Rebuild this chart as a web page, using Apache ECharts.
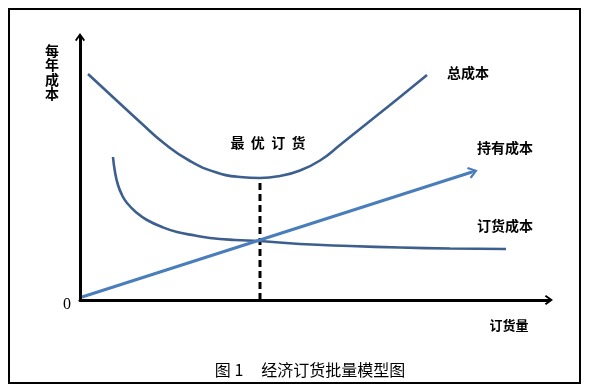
<!DOCTYPE html>
<html>
<head>
<meta charset="utf-8">
<script src="https://cdn.jsdelivr.net/npm/echarts@6/dist/echarts.min.js"></script>
<style>html,body{margin:0;padding:0;background:#fff;}#c{width:600px;height:390px;}</style>
</head>
<body>
<div id="c"></div>
<script>
// Data (x = order quantity, y = annual cost; arbitrary units)
var totalCostX = [8, 35, 60, 85, 110, 135, 160, 180, 200, 220, 240, 260, 280, 300, 320, 347];
var totalCostY = [226, 201, 178, 156, 139, 128, 123, 122, 124, 129.5, 139.5, 155, 171, 187, 203, 225];
var orderCostX = [33, 35, 38, 42, 47, 57, 67, 82, 97, 115, 130, 155, 180, 220, 270, 320, 370, 426];
var orderCostY = [143, 128, 115, 105, 97, 87, 80, 73, 68, 64.5, 62, 60, 59, 56, 54, 52.5, 51.5, 51];
var holdCostX = [2, 392];
var holdCostY = [3, 128];
var optimumX = 180;
var optimumY = 122;
var xMax = 468;
var yMax = 262;

var labelTotal = '总成本';
var labelHold = '持有成本';
var labelOrder = '订货成本';
var labelOptimum = '最  优  订  货';
var yAxisTitle = '每年成本';
var xAxisTitle = '订货量';
var originLabel = '0';
var caption = '图 1     经济订货批量模型图';

function pairs(xs, ys) { return xs.map(function (x, i) { return [x, ys[i]]; }); }

var arrowPath = 'path://M5,0 L10,7 L8.6,8.2 L5.8,4.2 L5.8,10 L4.2,10 L4.2,4.2 L1.4,8.2 L0,7 Z';

var chart = echarts.init(document.getElementById('c'), null, {renderer: 'canvas'});
var cjk = '"Noto Sans CJK SC", sans-serif';
var option = {
  backgroundColor: '#fff',
  animation: false,
  grid: {left: 80, right: 52, top: 38, bottom: 90},
  xAxis: {
    type: 'value', min: 0, max: xMax,
    axisLine: {show: true, lineStyle: {color: '#000', width: 3}, symbol: ['none', arrowPath], symbolSize: [13, 10]},
    axisTick: {show: false}, axisLabel: {show: false}, splitLine: {show: false}
  },
  yAxis: {
    type: 'value', min: 0, max: yMax,
    axisLine: {show: true, lineStyle: {color: '#000', width: 3}, symbol: ['none', arrowPath], symbolSize: [13, 10]},
    axisTick: {show: false}, axisLabel: {show: false}, splitLine: {show: false}
  },
  series: [
    {
      type: 'line', smooth: 0.5, showSymbol: false, z: 3,
      data: pairs(totalCostX, totalCostY),
      lineStyle: {color: '#3d5f8e', width: 2.6}
    },
    {
      type: 'line', smooth: 0.5, showSymbol: false, z: 3,
      data: pairs(orderCostX, orderCostY),
      lineStyle: {color: '#3d5f8e', width: 2.6}
    },
    {
      type: 'lines', coordinateSystem: 'cartesian2d', z: 4,
      symbol: ['none', arrowPath], symbolSize: 12,
      lineStyle: {color: '#4a7ebb', width: 3, opacity: 1},
      data: [{coords: pairs(holdCostX, holdCostY)}]
    },
    {
      type: 'line', showSymbol: false, z: 2,
      data: [[optimumX, 0], [optimumX, optimumY]],
      lineStyle: {color: '#000', width: 3, type: [7, 4]}
    }
  ],
  graphic: [
    {type: 'rect', shape: {x: 9, y: 9, width: 571, height: 374}, style: {fill: 'none', stroke: '#000', lineWidth: 2}, z: 10},
    {type: 'text', x: 52, y: 43, style: {text: yAxisTitle.split('').join('\n'), font: 'bold 14px ' + cjk, fill: '#000', align: 'center', verticalAlign: 'top', lineHeight: 14.5}},
    {type: 'text', x: 468, y: 73, style: {text: labelTotal, font: 'bold 14px ' + cjk, fill: '#000', align: 'center', verticalAlign: 'middle'}},
    {type: 'text', x: 505, y: 148, style: {text: labelHold, font: 'bold 14px ' + cjk, fill: '#000', align: 'center', verticalAlign: 'middle'}},
    {type: 'text', x: 505, y: 226, style: {text: labelOrder, font: 'bold 14px ' + cjk, fill: '#000', align: 'center', verticalAlign: 'middle'}},
    {type: 'text', x: 268, y: 143, style: {text: labelOptimum, font: 'bold 14px ' + cjk, fill: '#000', align: 'center', verticalAlign: 'middle'}},
    {type: 'text', x: 509, y: 325, style: {text: xAxisTitle, font: 'bold 13px ' + cjk, fill: '#000', align: 'center', verticalAlign: 'middle'}},
    {type: 'text', x: 67, y: 305, style: {text: originLabel, font: '16px "Liberation Serif", serif', fill: '#000', align: 'center', verticalAlign: 'middle'}},
    {type: 'text', x: 310, y: 370, style: {text: caption, font: '16px ' + cjk, fill: '#000', align: 'center', verticalAlign: 'middle'}}
  ]
};
chart.setOption(option);
</script>
</body>
</html>
